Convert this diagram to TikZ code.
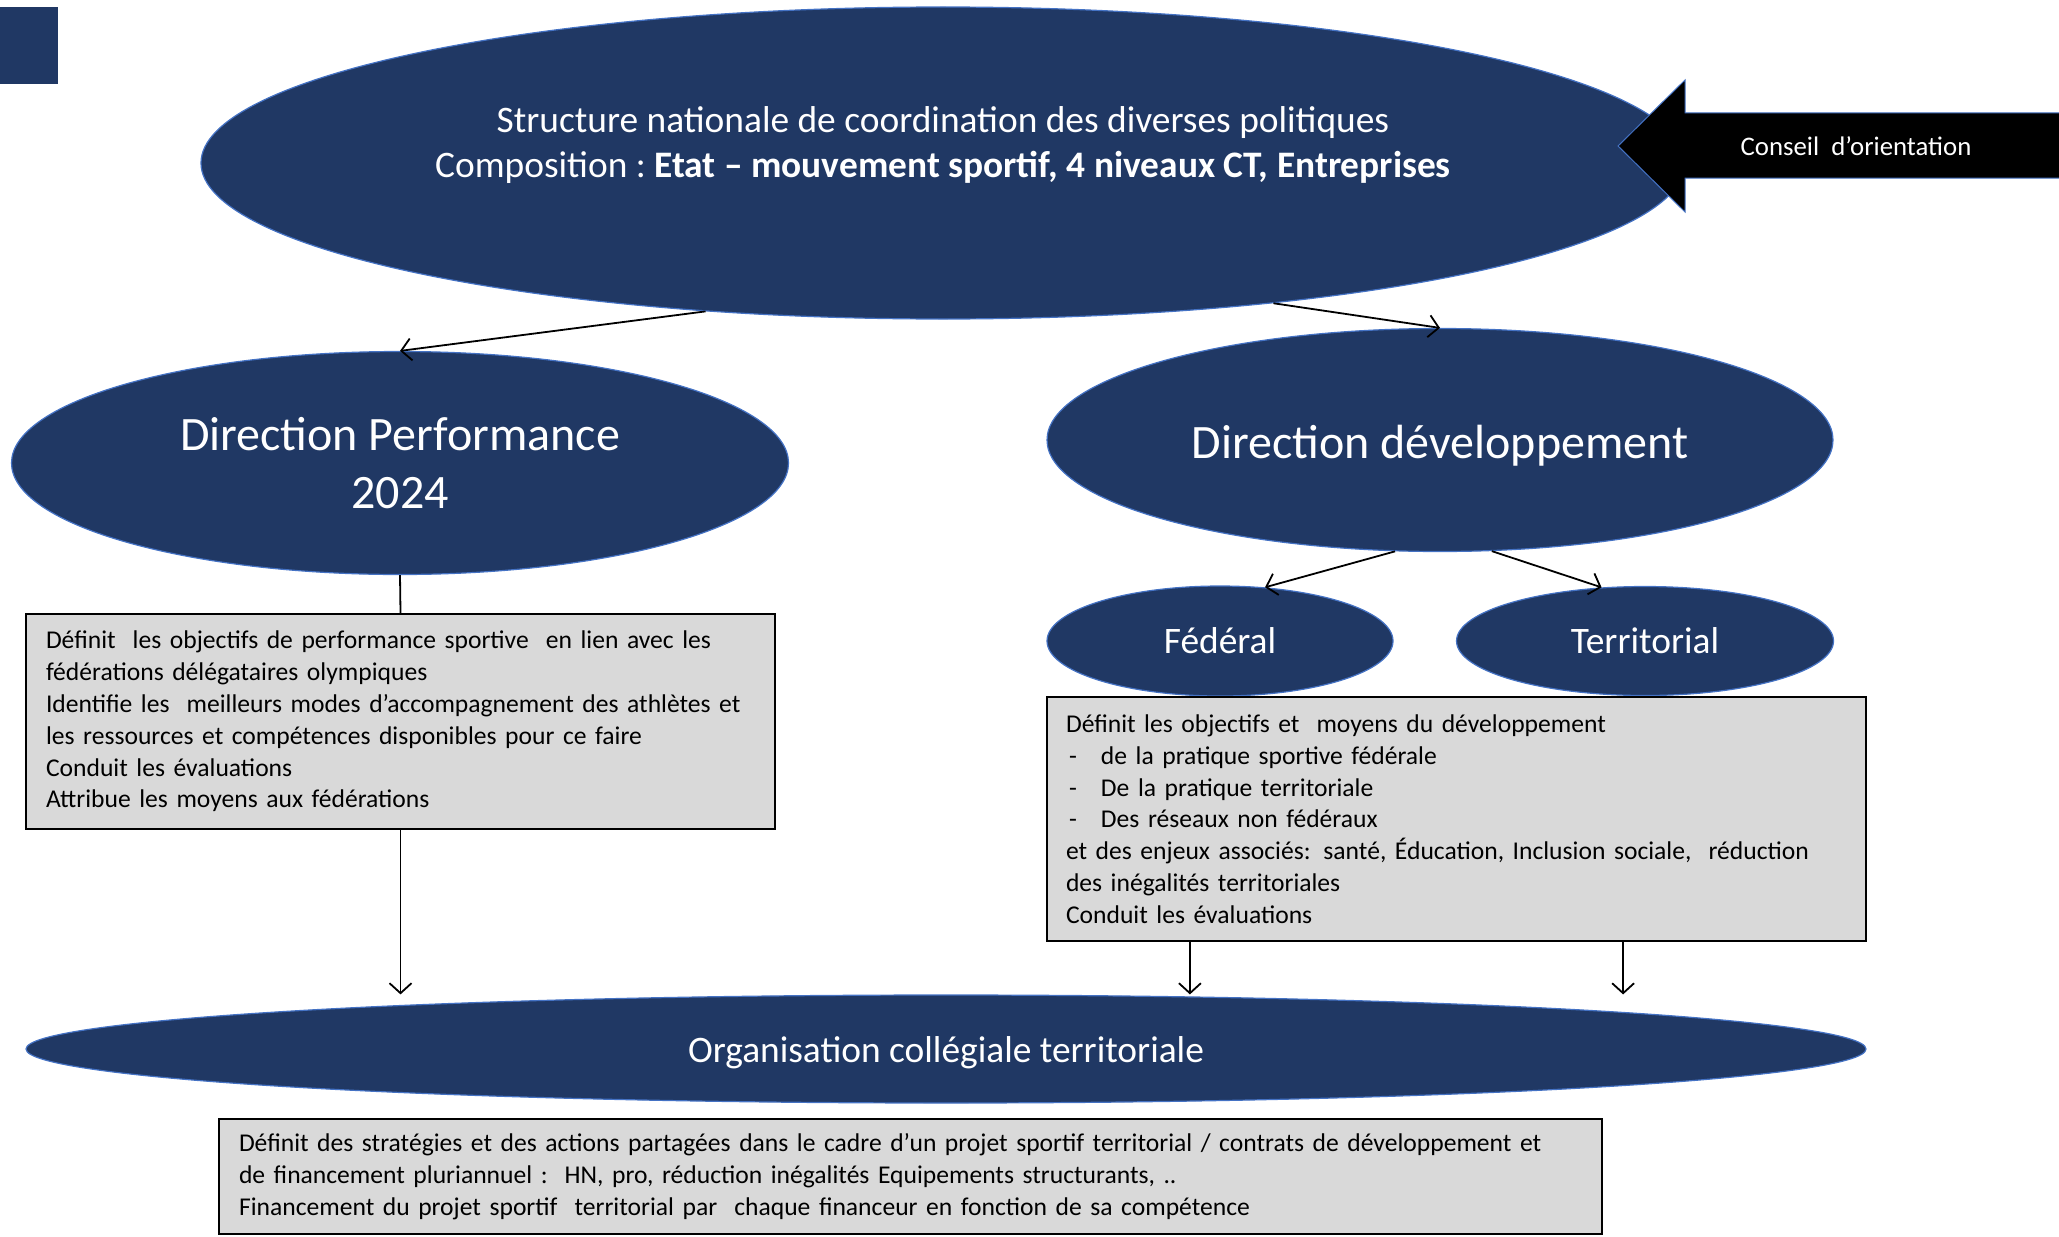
\documentclass[tikz,border=0pt]{standalone}
\usepackage{fontspec}
\setmainfont{Carlito}
\usetikzlibrary{shapes.geometric,arrows.meta,calc}
\definecolor{navy}{HTML}{203864}
\definecolor{rim}{HTML}{4472C4}
\definecolor{boxgray}{HTML}{D9D9D9}

\begin{document}
\begin{tikzpicture}[
    x=0.5pt, y=-0.5pt,
    blob/.style={ellipse, fill=navy, draw=rim, line width=0.6pt, inner sep=0pt,
                 text=white, align=center},
    infobox/.style={draw=black, line width=1.1pt, fill=boxgray, inner xsep=10pt,
                    align=left, font=\fontsize{12.8}{15.9}\selectfont},
    link/.style={-{Straight Barb[length=5pt,width=11pt]}, line width=0.9pt}
]
    \useasboundingbox (0,0) rectangle (2059,1236);

    % --- corner mark ---
    \fill[navy] (0,7) rectangle (58,84);

    % --- national structure ---
    \node[blob, minimum width=742pt, minimum height=156pt] (natl) at (943,163) {};
    \node[text=white, align=center, font=\fontsize{18.7}{22.4}\selectfont] (natltext)
        at ($(natl.center)+(0,-18)$)
        {Structure nationale de coordination des diverses politiques\\
         Composition :\ \textbf{Etat -- mouvement sportif, 4 niveaux CT, Entreprises}};

    % --- block arrow on the right ---
    \filldraw[fill=black, draw=rim, line width=0.5pt]
        (1618,146) -- (1685,80) -- (1685,113) -- (2070,113) -- (2070,178)
        -- (1685,178) -- (1685,212) -- cycle;
    \node[text=white, font=\fontsize{13.4}{16}\selectfont] (conseil) at (1856,146)
        {Conseil\ \ d’orientation};

    % --- the two directions ---
    \node[blob, minimum width=388.5pt, minimum height=111.5pt,
          font=\fontsize{24}{29}\selectfont] (perf) at (400,463)
        {Direction Performance\\2024};
    \node[blob, minimum width=393pt, minimum height=111.5pt,
          font=\fontsize{24}{29}\selectfont] (dev) at (1440,440)
        {\raisebox{-2.6pt}[\height][\depth]{Direction développement}};

    \draw[link] (natl.212) -- (perf.north);
    \draw[link] (natl.-23) -- (dev.north);

    % --- sub levels ---
    \node[blob, minimum width=173pt, minimum height=55pt,
          font=\fontsize{18.7}{22}\selectfont] (fed) at (1220,641) {Fédéral};
    \node[blob, minimum width=188.5pt, minimum height=54.5pt,
          font=\fontsize{18.7}{22}\selectfont] (terr) at (1645,641) {Territorial};

    \draw[link] (dev.248) -- (fed.50);
    \draw[link] (dev.-65) -- (terr.129);

    % --- text boxes ---
    \node[infobox, text width=354.5pt, minimum height=107.5pt] (perfbox) at (400.5,721.5)
        {Définit\ \ les objectifs de performance sportive\ \ en lien avec les\\
         fédérations délégataires olympiques\\
         Identifie les\ \ meilleurs modes d’accompagnement des athlètes et\\
         les ressources et compétences disponibles pour ce faire\\
         Conduit les évaluations\\
         Attribue les moyens aux fédérations};

    \node[infobox, inner xsep=9.5pt, text width=390.5pt, minimum height=122pt] (devbox)
        at (1456.5,819)
        {Définit les objectifs et\ \ moyens du développement\\
         \hspace*{1.5pt}\makebox[16pt][l]{-}de la pratique sportive fédérale\\
         \hspace*{1.5pt}\makebox[16pt][l]{-}De la pratique territoriale\\
         \hspace*{1.5pt}\makebox[16pt][l]{-}Des réseaux non fédéraux\\
         et des enjeux associés: santé, Éducation, Inclusion sociale,\ \ réduction\\
         des inégalités territoriales\\
         Conduit les évaluations};

    \draw[line width=0.9pt] (perf.south) -- (perfbox.north);

    % --- collegial organisation ---
    \node[blob, minimum width=920pt, minimum height=54pt,
          font=\fontsize{18.7}{22}\selectfont] (coll) at (946,1049)
        {\raisebox{-2pt}[\height][\depth]{Organisation collégiale territoriale}};

    \coordinate (fedout) at ($(devbox.south west)+(144,0)$);
    \coordinate (terrout) at ($(devbox.south east)+(-244,0)$);

    \draw[link] (perfbox.south) -- (perfbox.south |- coll.north);
    \draw[link] (fedout) -- (fedout |- coll.north);
    \draw[link] (terrout) -- (terrout |- coll.north);

    \node[infobox, text width=671.5pt, minimum height=57.5pt] (collbox) at (910.5,1176.5)
        {Définit des stratégies et des actions partagées dans le cadre d’un projet sportif territorial / contrats de développement et\\
         de financement pluriannuel :\ \ HN, pro, réduction inégalités Equipements structurants, ..\\
         Financement du projet sportif\ \ territorial par\ \ chaque financeur en fonction de sa compétence};

\end{tikzpicture}
\end{document}
